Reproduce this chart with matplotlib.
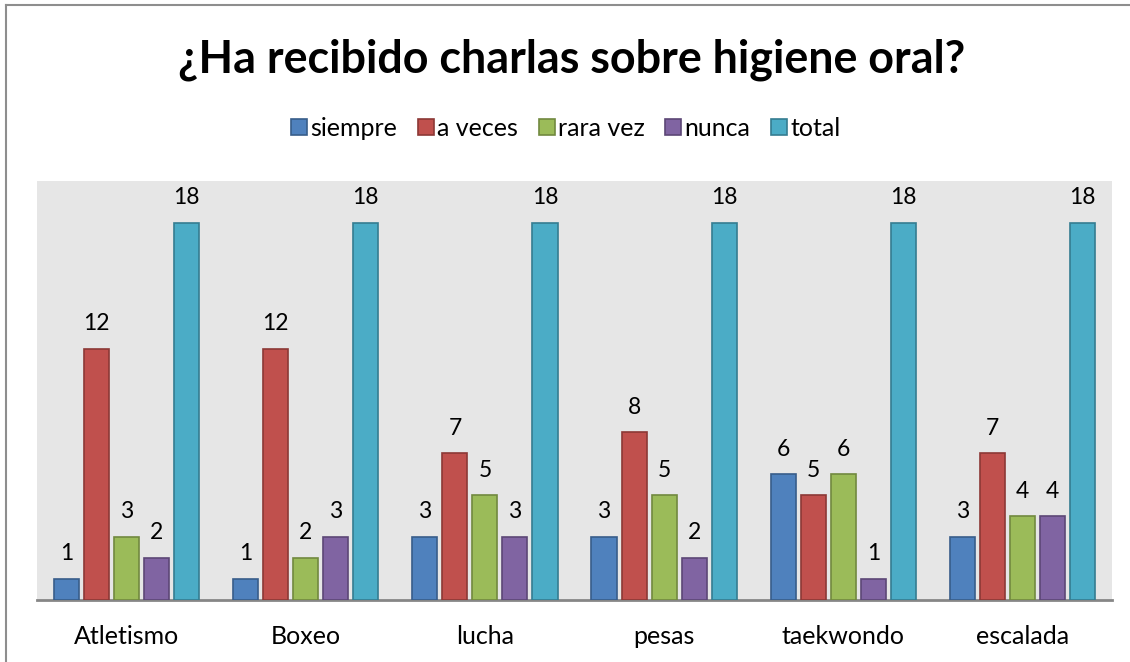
import matplotlib.pyplot as plt
import numpy as np
from matplotlib.lines import Line2D

# chart data
categories = ['Atletismo', 'Boxeo', 'lucha', 'pesas', 'taekwondo', 'escalada']
series_names = ['siempre', 'a veces', 'rara vez', 'nunca', 'total']
siempre = [1, 1, 3, 3, 6, 3]
a_veces = [12, 12, 7, 8, 5, 7]
rara_vez = [3, 2, 5, 5, 6, 4]
nunca = [2, 3, 3, 2, 1, 4]
total = [18, 18, 18, 18, 18, 18]

fill_colors = ['#4F81BD', '#C0504D', '#9BBB59', '#8064A2', '#4BACC6']
edge_colors = ['#385D8A', '#8C3836', '#71893F', '#5C4776', '#357D91']

plt.rcParams['font.family'] = ['Lato', 'DejaVu Sans']

fig = plt.figure(figsize=(11.3, 6.62), dpi=100)
ax = fig.add_axes([37 / 1130, 1 - 600 / 662, (1112 - 37) / 1130, (600 - 181) / 662])

# outer chart border, only left and top edges are in the picture
fx, fy = 6 / 1130, 1 - 5 / 662
fig.lines.append(Line2D([fx, fx], [0, fy], transform=fig.transFigure,
                        color='#8E8E8E', linewidth=1.5))
fig.lines.append(Line2D([fx, 1], [fy, fy], transform=fig.transFigure,
                        color='#8E8E8E', linewidth=1.5))

x = np.arange(len(categories))
pitch = 0.1676
width = 0.14
all_series = [siempre, a_veces, rara_vez, nunca, total]
for i, vals in enumerate(all_series):
    pos = x + (i - 2) * pitch
    bars = ax.bar(pos, vals, width=width, color=fill_colors[i],
                  edgecolor=edge_colors[i], linewidth=1.2, zorder=3)
    for b, v in zip(bars, vals):
        ax.text(b.get_x() + b.get_width() / 2, v + 0.7, str(v),
                ha='center', va='bottom', fontsize=16.5)

ax.set_facecolor('#E6E6E6')
ax.set_xlim(-0.5, len(categories) - 0.5)
ax.set_ylim(0, 20)
ax.set_yticks([])
ax.set_xticks(x)
ax.set_xticklabels(categories, fontsize=18)
ax.tick_params(axis='x', length=0, pad=18)
for side in ['top', 'right', 'left']:
    ax.spines[side].set_visible(False)
ax.spines['bottom'].set_color('#868686')
ax.spines['bottom'].set_linewidth(2)

fig.text(572 / 1130, 1 - 60 / 662, '¿Ha recibido charlas sobre higiene oral?',
         ha='center', va='center', fontsize=32.3, fontweight='bold')

# square legend keys
handles = [Line2D([], [], linestyle='', marker='s', markersize=11,
                  markerfacecolor=fc, markeredgecolor=ec, markeredgewidth=1.2)
           for fc, ec in zip(fill_colors, edge_colors)]
fig.legend(handles, series_names, loc='center',
           bbox_to_anchor=(566 / 1130, 1 - 128 / 662), ncol=5,
           frameon=False, fontsize=18, handlelength=0.6,
           handletextpad=0.15, columnspacing=0.85)

fig.savefig('out.png', dpi=100)
